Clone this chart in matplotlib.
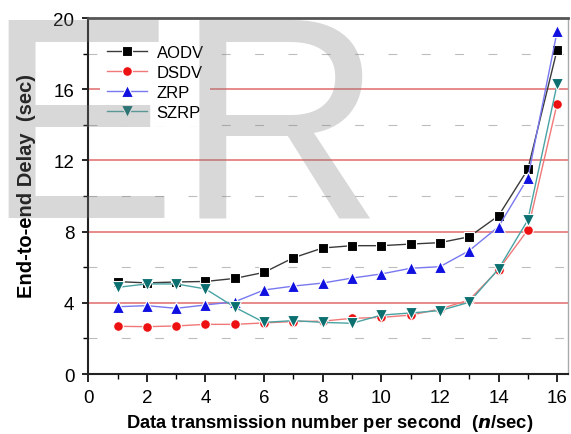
import matplotlib
matplotlib.use('Agg')
import matplotlib.pyplot as plt
from matplotlib.ticker import MultipleLocator

# values
rates = [1, 2, 3, 4, 5, 6, 7, 8, 9, 10, 11, 12, 13, 14, 15, 16]
aodv = [5.19, 5.12, 5.17, 5.2, 5.37, 5.71, 6.53, 7.08, 7.21, 7.21, 7.3, 7.38, 7.71, 8.89, 11.5, 18.22]
dsdv = [2.68, 2.66, 2.7, 2.79, 2.79, 2.87, 2.95, 2.97, 3.13, 3.18, 3.31, 3.65, 4.16, 5.86, 8.1, 15.19]
zrp = [3.78, 3.84, 3.69, 3.88, 4.06, 4.72, 4.94, 5.11, 5.39, 5.62, 5.94, 6.03, 6.93, 8.28, 11.01, 19.25]
szrp = [4.87, 5.06, 5.06, 4.78, 3.75, 2.9, 3.0, 2.9, 2.85, 3.31, 3.43, 3.56, 4.03, 5.9, 8.65, 16.29]

x_ticks = [0, 2, 4, 6, 8, 10, 12, 14, 16]
y_ticks = [0, 4, 8, 12, 16, 20]

narrow = ['Liberation Sans Narrow', 'Liberation Sans']
plt.rcParams['font.family'] = ['Liberation Sans', 'DejaVu Sans']


def main():
    fig = plt.figure(figsize=(5.71, 4.35), dpi=100)
    ax = fig.add_axes([0.1546, 0.1379, 0.8401, 0.8184])

    # red major grid + dashed grey minor grid
    for yv in y_ticks[1:-1]:
        ax.axhline(yv, color='#e88a8a', lw=1.4, zorder=0.5)
    ax.yaxis.set_minor_locator(MultipleLocator(2))
    ax.xaxis.set_minor_locator(MultipleLocator(1))
    ax.grid(which='minor', axis='y', color='#bdbdbd', lw=0.8, dashes=(8, 22))

    ax.plot(rates, aodv, color='#3a3a3a', lw=1.0, marker='s', ms=6.5,
            mfc='black', mec='white', mew=0.8, label='AODV')
    ax.plot(rates, dsdv, color='#f07878', lw=1.0, marker='o', ms=7,
            mfc='#ee1111', mec='white', mew=0.8, label='DSDV')
    ax.plot(rates, zrp, color='#7878f0', lw=1.0, marker='^', ms=8.5,
            mfc='#1010e0', mec='white', mew=0.8, label='ZRP')
    ax.plot(rates, szrp, color='#4aa3a3', lw=1.0, marker='v', ms=8.5,
            mfc='#0d7070', mec='white', mew=0.8, label='SZRP')

    ax.set_xlim(0, 16.37)
    ax.set_ylim(0, 20)
    ax.set_xticks(x_ticks)
    ax.set_yticks(y_ticks)
    ax.set_xticklabels([str(v) for v in x_ticks], family=narrow, fontsize=13.5)
    ax.set_yticklabels([str(v) for v in y_ticks], family=narrow, fontsize=13.5)
    ax.tick_params(which='major', direction='out', length=6, width=1.2, pad=5)
    ax.tick_params(which='minor', direction='out', length=3.5, width=1.0)
    ax.tick_params(axis='y', which='major', length=4, pad=6)

    for side in ['left', 'bottom']:
        ax.spines[side].set_linewidth(1.5)
        ax.spines[side].set_color('#222222')
    ax.spines['top'].set_linewidth(2.0)
    ax.spines['top'].set_color('#555555')
    ax.spines['right'].set_linewidth(1.0)
    ax.spines['right'].set_color('#aaaaaa')

    ax.set_xlabel('Data transmission number per second  ($\\boldsymbol{n}$/sec)',
                  fontsize=13.2, fontweight='bold')
    ax.xaxis.set_label_coords(0.503, -0.108)
    ax.xaxis.label.set_va('top')
    ax.set_ylabel('End-to-end Delay  (sec)', fontsize=14.5, fontweight='bold')
    ax.yaxis.set_label_coords(-0.11, 0.53)

    ax.legend(loc='upper left', bbox_to_anchor=(0.0244, 0.944),
              borderaxespad=0, fontsize=12, frameon=True, fancybox=False,
              facecolor='white', edgecolor='none', framealpha=1,
              handlelength=2.4, handletextpad=0.6, labelspacing=0.3,
              borderpad=0.4)

    # light grey watermark lying over the whole picture
    fig.text(-16 / 571, (435 - 218) / 435, 'ER', fontsize=207,
             color='#808080', alpha=0.3, ha='left', va='baseline', zorder=10)

    fig.savefig('out.png', dpi=100, facecolor='white')


if __name__ == "__main__":
    main()
